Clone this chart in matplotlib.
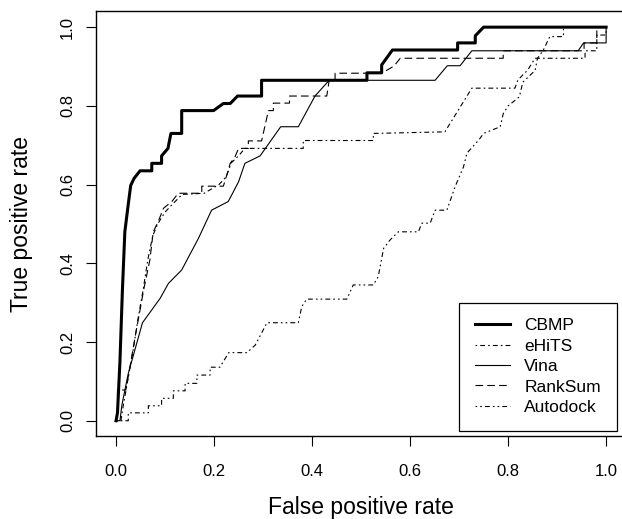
import matplotlib
matplotlib.use("Agg")
import matplotlib.pyplot as plt

plt.rcParams['font.family'] = ['Liberation Sans', 'DejaVu Sans']
plt.rcParams['lines.scale_dashes'] = False

# ROC curves (false positive rate, true positive rate)
cbmp_fpr = [0, 0.003, 0.008, 0.013, 0.018, 0.025, 0.03, 0.037, 0.049, 0.073, 0.073, 0.093, 0.093,
            0.106, 0.112, 0.134, 0.134, 0.199, 0.219, 0.233, 0.248, 0.297, 0.297, 0.512, 0.512,
            0.542, 0.542, 0.564, 0.697, 0.697, 0.733, 0.733, 0.75, 1.0]
cbmp_tpr = [0, 0.02, 0.15, 0.33, 0.48, 0.55, 0.598, 0.616, 0.635, 0.635, 0.654, 0.654, 0.673,
            0.692, 0.73, 0.73, 0.788, 0.788, 0.806, 0.806, 0.825, 0.825, 0.865, 0.865, 0.884,
            0.884, 0.904, 0.942, 0.942, 0.96, 0.96, 0.978, 1.0, 1.0]

ehits_fpr = [0, 0.01, 0.015, 0.025, 0.035, 0.045, 0.055, 0.065, 0.075, 0.085, 0.1, 0.115, 0.135,
             0.18, 0.21, 0.225, 0.235, 0.25, 0.263, 0.382, 0.382, 0.525, 0.525, 0.671, 0.726,
             0.814, 0.82, 0.84, 0.855, 0.957, 0.957, 0.981, 0.981, 1.0, 1.0]
ehits_tpr = [0, 0.0, 0.04, 0.11, 0.18, 0.26, 0.33, 0.41, 0.47, 0.5, 0.53, 0.55, 0.575,
             0.578, 0.6, 0.62, 0.655, 0.673, 0.692, 0.692, 0.712, 0.712, 0.73, 0.734, 0.845,
             0.845, 0.866, 0.891, 0.921, 0.921, 0.94, 0.94, 0.98, 0.98, 1.0]

vina_fpr = [0, 0.008, 0.012, 0.025, 0.054, 0.09, 0.107, 0.134, 0.168, 0.195, 0.229, 0.25, 0.263,
            0.294, 0.336, 0.372, 0.406, 0.435, 0.651, 0.676, 0.702, 0.726, 0.943, 0.954, 0.981,
            1.0, 1.0]
vina_tpr = [0, 0.0, 0.04, 0.12, 0.249, 0.311, 0.349, 0.383, 0.463, 0.535, 0.557, 0.607, 0.654,
            0.673, 0.747, 0.747, 0.825, 0.865, 0.865, 0.902, 0.902, 0.94, 0.94, 0.96, 0.96,
            0.96, 1.0]

ranksum_fpr = [0, 0.003, 0.003, 0.02, 0.025, 0.039, 0.049, 0.056, 0.069, 0.076, 0.086, 0.097,
               0.114, 0.127, 0.175, 0.175, 0.219, 0.226, 0.233, 0.243, 0.25, 0.27, 0.27, 0.297,
               0.311, 0.321, 0.321, 0.354, 0.354, 0.43, 0.435, 0.447, 0.447, 0.542, 0.567, 0.58,
               0.79, 0.79, 0.955, 0.955, 0.981, 0.981, 1.0]
ranksum_tpr = [0, 0.02, 0.078, 0.078, 0.112, 0.213, 0.281, 0.33, 0.408, 0.48, 0.506, 0.54,
               0.557, 0.578, 0.578, 0.596, 0.596, 0.624, 0.654, 0.671, 0.692, 0.692, 0.711, 0.711,
               0.788, 0.788, 0.807, 0.807, 0.825, 0.825, 0.865, 0.865, 0.883, 0.883, 0.901, 0.921,
               0.921, 0.94, 0.94, 0.96, 0.96, 1.0, 1.0]

autodock_fpr = [0, 0.025, 0.025, 0.066, 0.066, 0.093, 0.093, 0.117, 0.117, 0.141, 0.141, 0.165,
                0.165, 0.192, 0.192, 0.212, 0.23, 0.267, 0.284, 0.308, 0.372, 0.379, 0.389, 0.471,
                0.484, 0.525, 0.535, 0.546, 0.559, 0.576, 0.617, 0.624, 0.641, 0.651, 0.675,
                0.692, 0.709, 0.716, 0.74, 0.75, 0.784, 0.79, 0.8, 0.823, 0.83, 0.855, 0.86,
                0.872, 0.885, 0.913, 0.913, 1.0]
autodock_tpr = [0, 0.0, 0.02, 0.02, 0.038, 0.038, 0.057, 0.057, 0.076, 0.076, 0.095, 0.095,
                0.116, 0.116, 0.136, 0.136, 0.173, 0.173, 0.192, 0.249, 0.249, 0.29, 0.309, 0.309,
                0.345, 0.345, 0.366, 0.438, 0.459, 0.48, 0.48, 0.502, 0.502, 0.535, 0.535,
                0.595, 0.645, 0.68, 0.713, 0.73, 0.747, 0.78, 0.8, 0.823, 0.86, 0.89, 0.921,
                0.942, 0.976, 0.976, 1.0, 1.0]

ticks = [0.0, 0.2, 0.4, 0.6, 0.8, 1.0]
tick_labels = ['0.0', '0.2', '0.4', '0.6', '0.8', '1.0']

fig = plt.figure(figsize=(6.22, 5.19), dpi=100)
# plot box runs a bit past the right edge, like the original
ax = fig.add_axes([0.155, 0.159, 0.851, 0.819])

ax.plot(cbmp_fpr, cbmp_tpr, color='black', lw=2.2, label='CBMP')
ax.plot(ehits_fpr, ehits_tpr, color='black', lw=0.8, dashes=(1.2, 2.2, 3.5, 2.2), label='eHiTS')
ax.plot(vina_fpr, vina_tpr, color='black', lw=0.8, label='Vina')
ax.plot(ranksum_fpr, ranksum_tpr, color='black', lw=0.8, dashes=(5.5, 3.0), label='RankSum')
ax.plot(autodock_fpr, autodock_tpr, color='black', lw=0.8, dashes=(1.2, 2.2, 1.2, 2.2, 3.5, 2.2),
        label='Autodock')

ax.set_xlim(-0.04, 1.04)
ax.set_ylim(-0.04, 1.04)
ax.set_xticks(ticks)
ax.set_xticklabels(tick_labels)
ax.set_yticks(ticks)
ax.set_yticklabels(tick_labels)
ax.tick_params(axis='both', direction='out', length=7.5, width=0.8, labelsize=12)
ax.tick_params(axis='x', pad=12)
ax.tick_params(axis='y', pad=8, labelrotation=90)
for lab in ax.get_yticklabels():
    lab.set_va('center')
for s in ax.spines.values():
    s.set_linewidth(1.0)

ax.set_xlabel('False positive rate', fontsize=16.5, labelpad=12.5)
ax.set_ylabel('True positive rate', fontsize=16.5, labelpad=19)

leg = ax.legend(loc='upper left', bbox_to_anchor=(459.3 / 622, 1 - 302.7 / 519),
                bbox_transform=fig.transFigure, borderaxespad=0, fontsize=12.5,
                handlelength=2.0, handletextpad=0.85, borderpad=0.9, labelspacing=0.3,
                fancybox=False, edgecolor='black', framealpha=1)
leg.get_frame().set_linewidth(0.9)

fig.savefig('out.png', dpi=100)
